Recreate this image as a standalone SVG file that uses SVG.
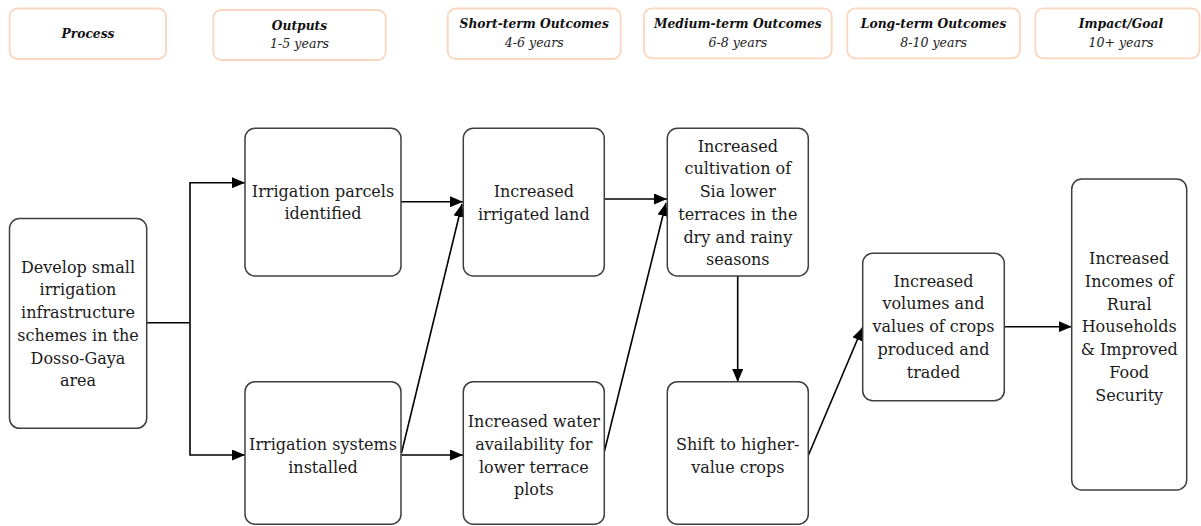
<svg xmlns="http://www.w3.org/2000/svg" width="1201" height="526" viewBox="0 0 1201 526">
<style>
.hb{fill:#fff;stroke:#f9d6bd;stroke-width:1.8}
.ht{font-family:"DejaVu Serif",serif;font-weight:bold;font-style:italic;font-size:12.3px;text-anchor:middle;fill:#111}
.hs{font-family:"DejaVu Serif",serif;font-style:italic;font-size:12.6px;text-anchor:middle;fill:#222}
.nb{fill:#fff;stroke:#3f3f3f;stroke-width:1.5}
.nt{font-family:"DejaVu Serif",serif;font-size:16px;text-anchor:middle;fill:#1a1a1a}
.c{fill:none;stroke:#000;stroke-width:1.6;marker-end:url(#ah)}
.cl{fill:none;stroke:#000;stroke-width:1.6}
</style>
<defs>
<marker id="ah" markerWidth="13" markerHeight="11" refX="13" refY="5.5" orient="auto" markerUnits="userSpaceOnUse">
<path d="M0,0 L13,5.5 L0,11 z" fill="#000"/>
</marker>
</defs>
<rect width="1201" height="526" fill="#fff"/>

<g id="header-process">
<rect class="hb" x="9.6" y="8.5" width="156.4" height="50.5" rx="8"/>
<text class="ht" x="88" y="37.5">Process</text>
</g>
<g id="header-outputs">
<rect class="hb" x="213.3" y="10" width="172.4" height="50" rx="8"/>
<text class="ht" x="299.5" y="29.5">Outputs</text>
<text class="hs" x="299.5" y="48.3">1-5 years</text>
</g>
<g id="header-short">
<rect class="hb" x="447.7" y="8.5" width="173" height="50.5" rx="8"/>
<text class="ht" x="534.2" y="28">Short-term Outcomes</text>
<text class="hs" x="534.2" y="47">4-6 years</text>
</g>
<g id="header-medium">
<rect class="hb" x="644" y="8.3" width="187.7" height="50" rx="8"/>
<text class="ht" x="737.8" y="28">Medium-term Outcomes</text>
<text class="hs" x="737.8" y="47">6-8 years</text>
</g>
<g id="header-long">
<rect class="hb" x="847.3" y="8.3" width="172.7" height="50" rx="8"/>
<text class="ht" x="933.6" y="28">Long-term Outcomes</text>
<text class="hs" x="933.6" y="47">8-10 years</text>
</g>
<g id="header-impact">
<rect class="hb" x="1035.3" y="8.3" width="164.2" height="50" rx="8"/>
<text class="ht" x="1121" y="28">Impact/Goal</text>
<text class="hs" x="1121" y="47">10+ years</text>
</g>

<g id="connectors">
<polyline class="cl" points="146.7,322.7 190,322.7"/>
<polyline class="c" points="190,322.7 190,182.7 245,182.7"/>
<polyline class="c" points="190,322.7 190,455 245,455"/>
<line class="c" x1="401" y1="201.7" x2="463" y2="201.7"/>
<line class="c" x1="401" y1="455" x2="463" y2="455"/>
<line class="c" x1="401.5" y1="453" x2="462" y2="204"/>
<line class="c" x1="604.3" y1="199" x2="667" y2="199"/>
<line class="c" x1="604.3" y1="451.7" x2="666" y2="203"/>
<line class="c" x1="737.7" y1="276" x2="737.7" y2="382"/>
<line class="c" x1="808.5" y1="455" x2="862.5" y2="327.5"/>
<line class="c" x1="1004.3" y1="326.7" x2="1071.7" y2="326.7"/>
</g>

<g id="n-develop">
<rect class="nb" x="9.5" y="218.5" width="137.2" height="209.8" rx="10"/>
<text class="nt" x="78" y="272.7">Develop small</text>
<text class="nt" x="78" y="295.4">irrigation</text>
<text class="nt" x="78" y="318.1">infrastructure</text>
<text class="nt" x="78" y="340.8">schemes in the</text>
<text class="nt" x="78" y="363.5">Dosso-Gaya</text>
<text class="nt" x="78" y="386.2">area</text>
</g>
<g id="n-parcels">
<rect class="nb" x="245" y="128.3" width="156" height="147.7" rx="10"/>
<text class="nt" x="323" y="196.7">Irrigation parcels</text>
<text class="nt" x="323" y="219.4">identified</text>
</g>
<g id="n-systems">
<rect class="nb" x="245" y="381.7" width="156" height="142.5" rx="10"/>
<text class="nt" x="323" y="450">Irrigation systems</text>
<text class="nt" x="323" y="472.7">installed</text>
</g>
<g id="n-irrigated">
<rect class="nb" x="463.3" y="128.3" width="141" height="147.7" rx="10"/>
<text class="nt" x="533.8" y="197">Increased</text>
<text class="nt" x="533.8" y="219.7">irrigated land</text>
</g>
<g id="n-water">
<rect class="nb" x="463.3" y="381.7" width="141" height="142.5" rx="10"/>
<text class="nt" x="533.8" y="427.3">Increased water</text>
<text class="nt" x="533.8" y="450">availability for</text>
<text class="nt" x="533.8" y="472.7">lower terrace</text>
<text class="nt" x="533.8" y="495.4">plots</text>
</g>
<g id="n-cultivation">
<rect class="nb" x="667.3" y="128.3" width="141" height="147.7" rx="10"/>
<text class="nt" x="737.8" y="151.7">Increased</text>
<text class="nt" x="737.8" y="174.4">cultivation of</text>
<text class="nt" x="737.8" y="197.1">Sia lower</text>
<text class="nt" x="737.8" y="219.8">terraces in the</text>
<text class="nt" x="737.8" y="242.5">dry and rainy</text>
<text class="nt" x="737.8" y="265.2">seasons</text>
</g>
<g id="n-shift">
<rect class="nb" x="667.3" y="381.7" width="141" height="142.5" rx="10"/>
<text class="nt" x="737.8" y="450">Shift to higher-</text>
<text class="nt" x="737.8" y="472.7">value crops</text>
</g>
<g id="n-volumes">
<rect class="nb" x="862.7" y="253.3" width="141.6" height="147.4" rx="10"/>
<text class="nt" x="933.5" y="286.7">Increased</text>
<text class="nt" x="933.5" y="309.4">volumes and</text>
<text class="nt" x="933.5" y="332.1">values of crops</text>
<text class="nt" x="933.5" y="354.8">produced and</text>
<text class="nt" x="933.5" y="377.5">traded</text>
</g>
<g id="n-incomes">
<rect class="nb" x="1071.7" y="179" width="115" height="311" rx="10"/>
<text class="nt" x="1129.2" y="264.3">Increased</text>
<text class="nt" x="1129.2" y="287">Incomes of</text>
<text class="nt" x="1129.2" y="309.7">Rural</text>
<text class="nt" x="1129.2" y="332.4">Households</text>
<text class="nt" x="1129.2" y="355.1">&amp; Improved</text>
<text class="nt" x="1129.2" y="377.8">Food</text>
<text class="nt" x="1129.2" y="400.5">Security</text>
</g>
</svg>
